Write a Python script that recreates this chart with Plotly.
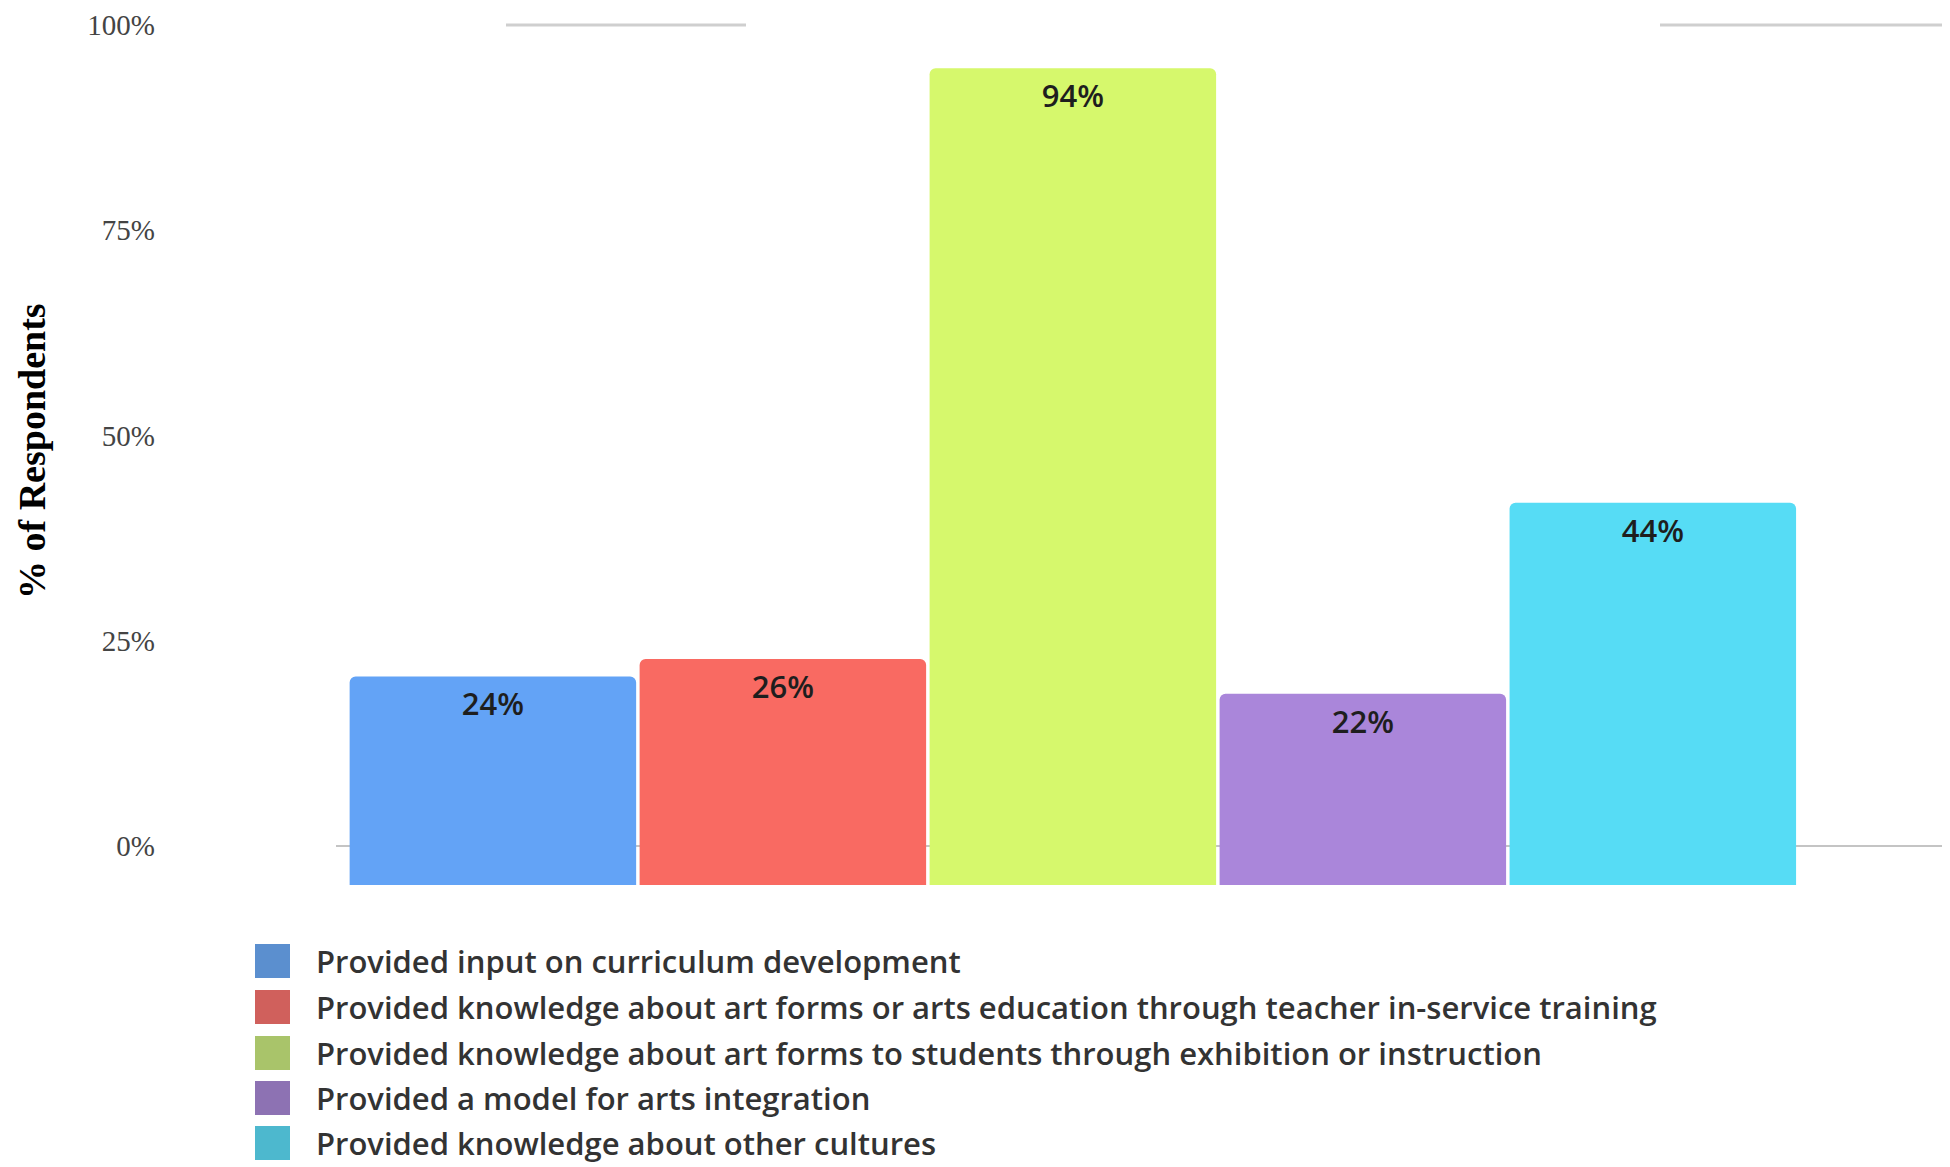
import plotly.graph_objects as go

categories = [
    "Provided input on curriculum development",
    "Provided knowledge about art forms or arts education through teacher in-service training",
    "Provided knowledge about art forms to students through exhibition or instruction",
    "Provided a model for arts integration",
    "Provided knowledge about other cultures",
]
values = [24, 26, 94, 22, 44]
value_labels = ["24%", "26%", "94%", "22%", "44%"]
tick_values = [0, 25, 50, 75, 100]
tick_labels = ["0%", "25%", "50%", "75%", "100%"]
bar_colors = ["#63A3F6", "#F96A62", "#D6F86C", "#AA86DA", "#56DCF5"]
legend_colors = ["#5B8FCF", "#D0605C", "#A9C46A", "#8D72B3", "#4DB8CE"]
y_title = "% of Respondents"

W, H = 1950, 1167
OFF = 8  # page body margin
# plot area in page pixels
P_LEFT, P_RIGHT, P_TOP, P_BOTTOM = 336, 1946, 16, 885
L, R = P_LEFT - OFF, W - (P_RIGHT - OFF)
T, B = P_TOP - OFF, H - (P_BOTTOM - OFF)
PW, PH = P_RIGHT - P_LEFT, P_BOTTOM - P_TOP


def px_x(x):
    return (x - P_LEFT) / PW


def px_y(y):
    return (P_BOTTOM - y) / PH


fig = go.Figure(
    go.Bar(
        x=categories,
        y=values,
        text=value_labels,
        textposition="inside",
        insidetextanchor="end",
        textangle=0,
        marker=dict(color=bar_colors, line=dict(width=0), cornerradius=6),
        insidetextfont=dict(family="Open Sans", size=31, color="#1e1e1e", weight=600),
        showlegend=False,
        hoverinfo="skip",
    )
)

shapes = [
    dict(type="line", xref="paper", yref="y2", x0=0, x1=1, y0=0, y1=0,
         line=dict(color="#c4c4c4", width=2), layer="below"),
    dict(type="line", xref="paper", yref="y2", x0=px_x(506), x1=px_x(746), y0=100, y1=100,
         line=dict(color="#cfcfcf", width=3), layer="below"),
    dict(type="line", xref="paper", yref="y2", x0=px_x(1660), x1=px_x(1946), y0=100, y1=100,
         line=dict(color="#cfcfcf", width=3), layer="below"),
]
annotations = [
    dict(text=y_title, xref="paper", yref="paper", x=px_x(9), y=px_y(451),
         xanchor="left", yanchor="middle", textangle=-90, showarrow=False,
         font=dict(family="Liberation Serif", size=38, color="#000000", weight="bold")),
]

row_centers = [961, 1007, 1053, 1098, 1143]
for name, col, yc in zip(categories, legend_colors, row_centers):
    shapes.append(dict(type="rect", xref="paper", yref="paper",
                       x0=px_x(255), x1=px_x(290), y0=px_y(yc - 17), y1=px_y(yc + 17),
                       fillcolor=col, line=dict(width=0)))
    annotations.append(dict(text=name, xref="paper", yref="paper", x=px_x(314), y=px_y(yc),
                            xanchor="left", yanchor="middle", showarrow=False,
                            font=dict(family="Open Sans", size=31, color="#333333", weight=600)))

fig.update_layout(
    width=W, height=H,
    margin=dict(l=L, r=R, t=T, b=B, autoexpand=False),
    paper_bgcolor="white", plot_bgcolor="white",
    bargap=0.012,
    xaxis=dict(range=[-0.541, 5.011], showticklabels=False, showgrid=False,
               zeroline=False, showline=False, ticks=""),
    # front plane of the bars
    yaxis=dict(range=[0, 100], showticklabels=False, showgrid=False,
               zeroline=False, showline=False, ticks=""),
    # back wall scale carrying the tick labels
    yaxis2=dict(overlaying="y", side="left", range=[-4.75, 101.1],
                tickvals=tick_values, ticktext=tick_labels,
                tickfont=dict(family="Liberation Serif", size=29, color="#444444"),
                showgrid=False, zeroline=False, showline=False, ticks="",
                ticklabelstandoff=180),
    shapes=shapes,
    annotations=annotations,
)

fig.write_html("out.html")
